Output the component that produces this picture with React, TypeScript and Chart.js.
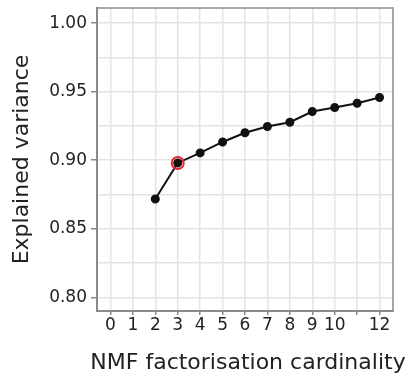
import React, { useEffect, useRef } from "react";
import { Chart, registerables } from "chart.js";

Chart.register(...registerables);

const cardinality = [2, 3, 4, 5, 6, 7, 8, 9, 10, 11, 12];
const explainedVariance = [0.8717, 0.898, 0.9053, 0.9133, 0.92, 0.9246, 0.9277, 0.9355, 0.9384, 0.9415, 0.9457];
const selectedK = [3];
const selectedVariance = [0.898];
const xTickValues = [0, 1, 2, 3, 4, 5, 6, 7, 8, 9, 10, 11, 12];
const xTickLabels = ["0", "1", "2", "3", "4", "5", "6", "7", "8", "9", "10", "", "12"];
const yTickValues = [0.8, 0.825, 0.85, 0.875, 0.9, 0.925, 0.95, 0.975, 1.0];
const yTickLabels = ["0.80", "", "0.85", "", "0.90", "", "0.95", "", "1.00"];
const xTitle = "NMF factorisation cardinality";
const yTitle = "Explained variance";

const FONT = "'DejaVu Sans', Verdana, sans-serif";

const frame = {
  id: "frame",
  beforeDatasetsDraw(chart: any) {
    const { ctx, chartArea } = chart;
    ctx.save();
    ctx.strokeStyle = "#8a8a8a";
    ctx.lineWidth = 1.5;
    ctx.strokeRect(chartArea.left, chartArea.top, chartArea.right - chartArea.left, chartArea.bottom - chartArea.top);
    ctx.restore();
  },
  afterDraw(chart: any) {
    const { ctx, chartArea } = chart;
    ctx.save();
    ctx.fillStyle = "#222";
    ctx.font = `22px ${FONT}`;
    ctx.textAlign = "center";
    ctx.textBaseline = "middle";
    ctx.fillText(xTitle, (chartArea.left + chartArea.right) / 2 + 3, 363);
    ctx.restore();
  },
};

export default function App() {
  const ref = useRef<HTMLCanvasElement>(null);
  useEffect(() => {
    document.body.style.margin = "0";
    const ctx = ref.current!;
    const chart = new Chart(ctx, {
      type: "scatter",
      data: {
        datasets: [
          {
            data: selectedK.map((k, i) => ({ x: k, y: selectedVariance[i] })),
            showLine: false,
            pointRadius: 6,
            pointBorderWidth: 2,
            pointBorderColor: "#e3262f",
            pointBackgroundColor: "rgba(0,0,0,0)",
            order: 0,
          },
          {
            data: cardinality.map((k, i) => ({ x: k, y: explainedVariance[i] })),
            showLine: true,
            borderColor: "#111",
            borderWidth: 2,
            pointRadius: 3.5,
            pointBackgroundColor: "#111",
            pointBorderColor: "#111",
            order: 1,
          },
        ],
      },
      options: {
        animation: false,
        responsive: false,
        maintainAspectRatio: false,
        layout: { padding: { left: 0, top: 7, right: 19, bottom: 1 } },
        plugins: { legend: { display: false }, tooltip: { enabled: false } },
        scales: {
          x: {
            type: "linear",
            min: -0.6,
            max: 12.6,
            afterBuildTicks: (s: any) => {
              s.ticks = xTickValues.map((v) => ({ value: v }));
            },
            afterFit: (s: any) => {
              s.height = 67;
              s.paddingLeft = 0;
              s.paddingRight = 0;
            },
            ticks: {
              autoSkip: false,
              maxRotation: 0,
              padding: 0,
              color: "#222",
              font: { family: FONT, size: 17 },
              callback: (v: any, i: number) => xTickLabels[i],
            },
            grid: { color: "#e4e4e4", lineWidth: 1.5, tickLength: 4, tickColor: "#8a8a8a" },
            border: { color: "#8a8a8a", width: 2 },
            title: { display: false },
          },
          y: {
            type: "linear",
            min: 0.79,
            max: 1.011,
            afterBuildTicks: (s: any) => {
              s.ticks = yTickValues.map((v) => ({ value: v }));
            },
            afterFit: (s: any) => {
              s.width = 97;
              s.paddingTop = 0;
              s.paddingBottom = 0;
            },
            ticks: {
              autoSkip: false,
              padding: 4,
              color: "#222",
              font: { family: FONT, size: 17 },
              callback: (v: any, i: number) => yTickLabels[i],
            },
            grid: {
              color: "#e4e4e4",
              lineWidth: 1.5,
              tickLength: 6,
              tickColor: (c: any) => (yTickLabels[c.index] ? "#8a8a8a" : "rgba(0,0,0,0)"),
            },
            border: { color: "#8a8a8a", width: 2 },
            title: {
              display: true,
              text: yTitle,
              color: "#222",
              font: { family: FONT, size: 22 },
              padding: { top: 9, bottom: 0 },
            },
          },
        },
      },
      plugins: [frame],
    } as any);
    return () => chart.destroy();
  }, []);
  return (
    <div style={{ width: 412, height: 379 }}>
      <canvas ref={ref} width={412} height={379} style={{ display: "block" }} />
    </div>
  );
}
